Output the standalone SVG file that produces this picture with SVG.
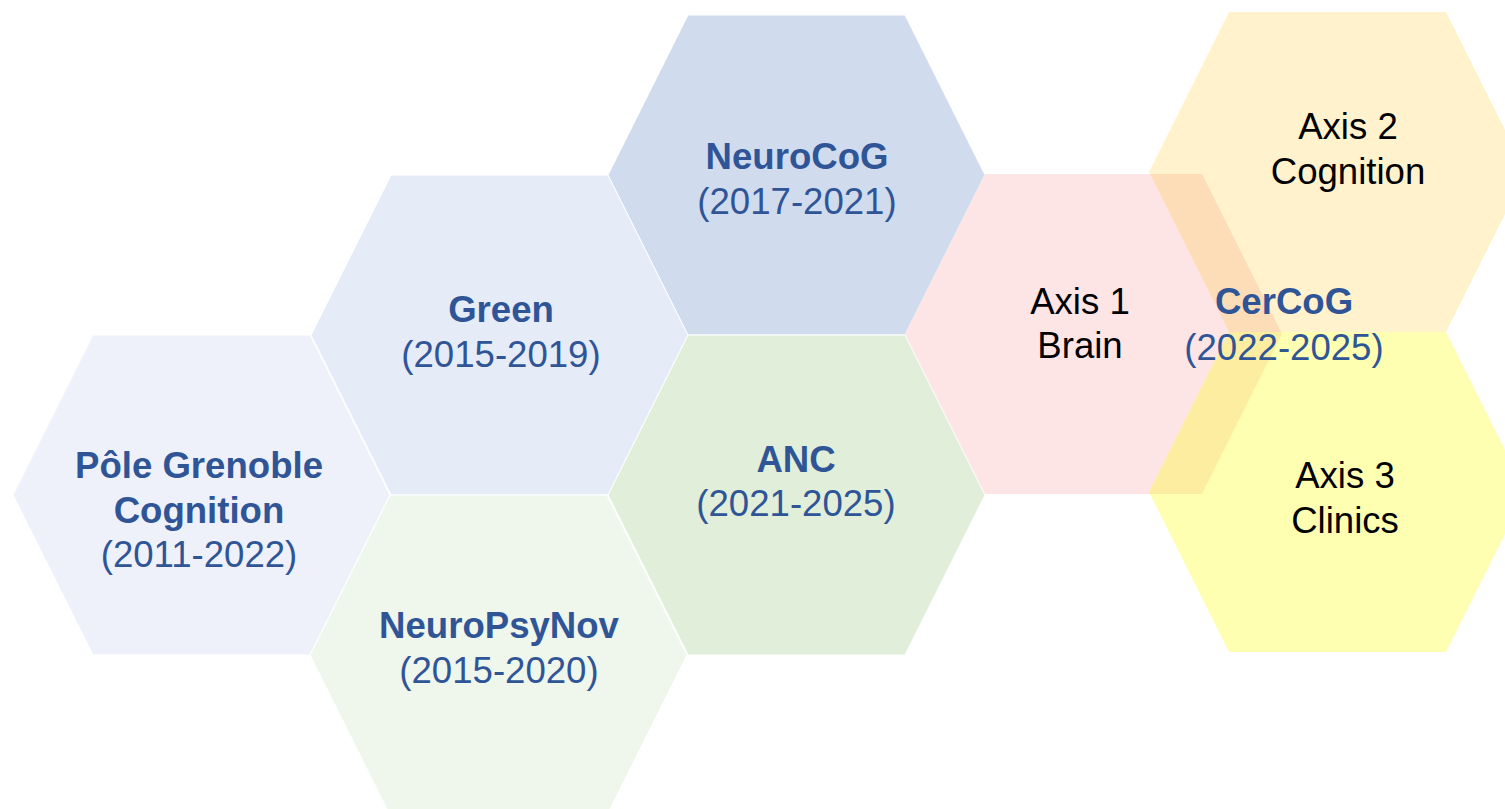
<svg xmlns="http://www.w3.org/2000/svg" width="1505" height="809" viewBox="0 0 1505 809">
<style>
  .hex { stroke: #ffffff; stroke-width: 1; }
  .t { font-family: "Liberation Sans", Arial, sans-serif; font-size: 36.6px; text-anchor: middle; }
  .b { font-weight: bold; fill: #2F5597; }
  .y { fill: #2F5597; }
  .k { fill: #000000; }
</style>
<defs>
  <polygon id="hx" points="0,0 80,-160 297,-160 377,0 297,160 80,160"/>
</defs>
<rect width="1505" height="809" fill="#ffffff"/>
<g id="connectors"></g>
<g id="pole">
  <use href="#hx" x="13" y="495" fill="#EEF1F9" class="hex"/>
  <text class="t b" x="199" y="478">Pôle Grenoble</text>
  <text class="t b" x="199" y="523">Cognition</text>
  <text class="t y" x="199" y="567">(2011-2022)</text>
</g>
<g id="green">
  <use href="#hx" x="311" y="335" fill="#E5EBF7" class="hex"/>
  <text class="t b" x="501" y="322">Green</text>
  <text class="t y" x="501" y="367">(2015-2019)</text>
</g>
<g id="neuropsynov">
  <use href="#hx" x="310" y="655" fill="#EFF6EB" class="hex"/>
  <text class="t b" x="499" y="638">NeuroPsyNov</text>
  <text class="t y" x="499" y="683">(2015-2020)</text>
</g>
<g id="neurocog">
  <use href="#hx" x="608" y="175" fill="#D0DCEE" class="hex"/>
  <text class="t b" x="797" y="169">NeuroCoG</text>
  <text class="t y" x="797" y="214">(2017-2021)</text>
</g>
<g id="anc">
  <use href="#hx" x="608" y="495" fill="#E1EED9" class="hex"/>
  <text class="t b" x="796" y="472">ANC</text>
  <text class="t y" x="796" y="516">(2021-2025)</text>
</g>
<g id="axis1">
  <use href="#hx" x="905" y="334" fill="#FDE5E6"/>
  <text class="t k" x="1080" y="314">Axis 1</text>
  <text class="t k" x="1080" y="358">Brain</text>
</g>
<g id="axis2">
  <use href="#hx" x="1149" y="172" fill="#FFC000" fill-opacity="0.2"/>
  <text class="t k" x="1348" y="139">Axis 2</text>
  <text class="t k" x="1348" y="184">Cognition</text>
</g>
<g id="axis3">
  <use href="#hx" x="1149" y="492" fill="#FFFF00" fill-opacity="0.3"/>
  <text class="t k" x="1345" y="488">Axis 3</text>
  <text class="t k" x="1345" y="533">Clinics</text>
</g>
<g id="cercog">
  <text class="t b" x="1284" y="314">CerCoG</text>
  <text class="t y" x="1284" y="360">(2022-2025)</text>
</g>
</svg>
